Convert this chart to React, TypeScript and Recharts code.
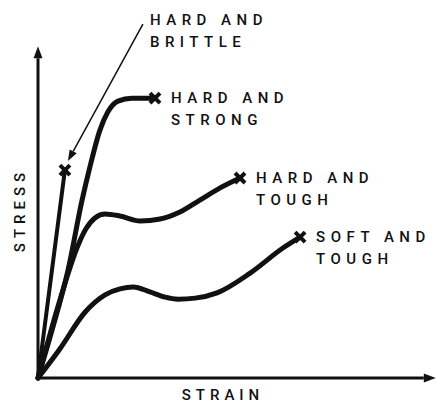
import React from "react";
import { LineChart, Line, XAxis, YAxis, ReferenceLine } from "recharts";

// strain / stress points (arbitrary units 0..100)
const brittleStrain = [0, 6.9];
const brittleStress = [0, 63];

const strongStrain = [0, 3.6, 7.7, 11.3, 13.3, 15.9, 17.9, 20.5, 24.1, 30];
const strongStress = [0, 14.5, 32.7, 53.9, 63.9, 75.2, 80.6, 83.9, 84.8, 84.8];

const hardToughStrain = [0, 5.6, 10.3, 12.3, 14.6, 17.2, 21, 26.2, 31.3, 36.4, 41.5, 46.7, 51.8];
const hardToughStress = [0, 23.6, 40.3, 45.2, 48.5, 49.7, 49.1, 47.6, 48.2, 50.3, 53.9, 57.6, 60.6];

const softToughStrain = [0, 5.6, 12.1, 17.2, 21, 24.4, 28.7, 32.6, 35.9, 40.3, 45.9, 54.4, 62.8, 67.2];
const softToughStress = [0, 8.8, 20, 25.2, 27, 27.6, 26.1, 24.5, 23.9, 24.2, 25.8, 31.8, 39.4, 42.7];

const seriesLabels = [
  ["HARD AND", "BRITTLE"],
  ["HARD AND", "STRONG"],
  ["HARD AND", "TOUGH"],
  ["SOFT AND", "TOUGH"],
];

const toRows = (xs: number[], ys: number[]) => xs.map((x, i) => ({ x, y: ys[i] }));

const series = [
  { key: "brittle", data: toRows(brittleStrain, brittleStress), width: 4 },
  { key: "strong", data: toRows(strongStrain, strongStress), width: 5 },
  { key: "hardTough", data: toRows(hardToughStrain, hardToughStress), width: 5 },
  { key: "softTough", data: toRows(softToughStrain, softToughStress), width: 5 },
];

const INK = "#111";
const FONT = "Roboto, 'DejaVu Sans', sans-serif";

const labelText = {
  fontFamily: FONT,
  fontSize: 15,
  fontWeight: 500,
  letterSpacing: 5.5,
  fill: INK,
} as const;

function Cross({ cx, cy }: { cx: number; cy: number }) {
  const s = 5;
  return (
    <g stroke={INK} strokeWidth={4} strokeLinecap="butt">
      <line x1={cx - s} y1={cy - s} x2={cx + s} y2={cy + s} />
      <line x1={cx - s} y1={cy + s} x2={cx + s} y2={cy - s} />
    </g>
  );
}

function endMarker(seriesIndex: number, last: number) {
  return (p: any) => {
    const { cx, cy, index } = p;
    if (index !== last) return <g key={`d-${seriesIndex}-${index}`} />;
    const lines = seriesLabels[seriesIndex];
    if (seriesIndex === 0) {
      // brittle: label sits above, with a leader arrow down to the break
      const sx = cx + 78, sy = cy - 146;
      const ex = cx + 3, ey = cy - 9;
      const ang = Math.atan2(ey - sy, ex - sx);
      const h = 11, w = 4;
      const bx = ex - h * Math.cos(ang), by = ey - h * Math.sin(ang);
      return (
        <g key={`d-${seriesIndex}-${index}`}>
          <Cross cx={cx} cy={cy} />
          <line x1={sx} y1={sy} x2={bx} y2={by} stroke={INK} strokeWidth={1.5} />
          <polygon
            points={`${ex},${ey} ${bx + w * Math.sin(ang)},${by - w * Math.cos(ang)} ${bx - w * Math.sin(ang)},${by + w * Math.cos(ang)}`}
            fill={INK}
          />
          <text x={cx + 85} y={cy - 145} {...labelText}>{lines[0]}</text>
          <text x={cx + 85} y={cy - 123} {...labelText}>{lines[1]}</text>
        </g>
      );
    }
    return (
      <g key={`d-${seriesIndex}-${index}`}>
        <Cross cx={cx} cy={cy} />
        <text x={cx + 16} y={cy + 5} {...labelText}>{lines[0]}</text>
        <text x={cx + 16} y={cy + 27} {...labelText}>{lines[1]}</text>
      </g>
    );
  };
}

function Arrow(props: any) {
  const { x1, y1, x2, y2 } = props;
  const ang = Math.atan2(y2 - y1, x2 - x1);
  const h = 12, w = 4.5;
  const bx = x2 - h * Math.cos(ang), by = y2 - h * Math.sin(ang);
  return (
    <g>
      <line x1={x1} y1={y1} x2={bx} y2={by} stroke={INK} strokeWidth={3} />
      <polygon
        points={`${x2},${y2} ${bx + w * Math.sin(ang)},${by - w * Math.cos(ang)} ${bx - w * Math.sin(ang)},${by + w * Math.cos(ang)}`}
        fill={INK}
      />
    </g>
  );
}

export default function App() {
  return (
    <div style={{ position: "absolute", left: 0, top: 0, width: 437, height: 405, background: "#fff" }}>
      <LineChart width={437} height={405} margin={{ top: 48, right: 9, bottom: 0, left: 0 }}>
        <XAxis
          type="number"
          dataKey="x"
          domain={[0, 100]}
          tick={false}
          tickLine={false}
          axisLine={false}
          height={27}
          label={{
            content: ({ viewBox }: any) => (
              <text
                x={viewBox.x + viewBox.width / 2 - 10}
                y={viewBox.y + 22}
                textAnchor="middle"
                {...labelText}
                fontSize={15}
                letterSpacing={5}
              >
                STRAIN
              </text>
            ),
          }}
        />
        <YAxis
          type="number"
          domain={[0, 100]}
          tick={false}
          tickLine={false}
          axisLine={false}
          width={38}
          label={{
            content: ({ viewBox }: any) => {
              const x = viewBox.x + 25;
              const y = viewBox.y + viewBox.height / 2 - 3;
              return (
                <text
                  x={x}
                  y={y}
                  textAnchor="middle"
                  transform={`rotate(-90 ${x} ${y})`}
                  {...labelText}
                  fontSize={15}
                  letterSpacing={5}
                >
                  STRESS
                </text>
              );
            },
          }}
        />
        <ReferenceLine segment={[{ x: 0, y: 0 }, { x: 102, y: 0 }]} ifOverflow="visible" shape={Arrow} />
        <ReferenceLine segment={[{ x: 0, y: 0 }, { x: 0, y: 100.5 }]} ifOverflow="visible" shape={Arrow} />
        {series.map((s, i) => (
          <Line
            key={s.key}
            data={s.data}
            dataKey="y"
            type="monotone"
            stroke={INK}
            strokeWidth={s.width}
            strokeLinecap="round"
            strokeLinejoin="round"
            dot={endMarker(i, s.data.length - 1)}
            activeDot={false}
            isAnimationActive={false}
          />
        ))}
      </LineChart>
    </div>
  );
}
